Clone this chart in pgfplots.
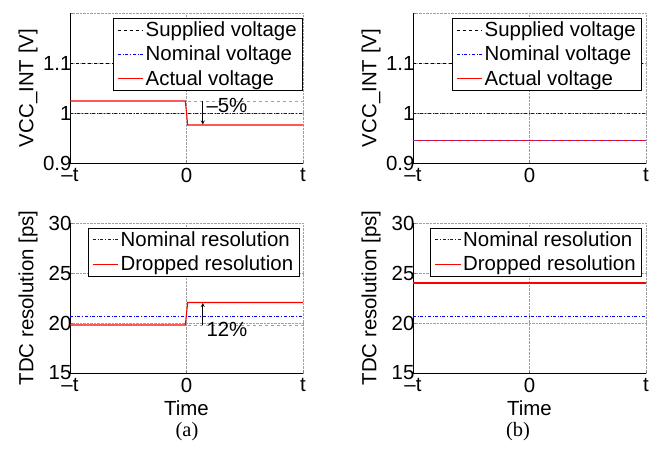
\documentclass[border=0pt]{standalone}
\usepackage{xcolor}
\usepackage{fontspec}
\setmainfont{Liberation Sans}
\newfontfamily\capfont{Liberation Serif}
\usepackage{pgfplots}
\pgfplotsset{compat=1.18}
\definecolor{pinkred}{RGB}{255,120,120}
\definecolor{myblue}{RGB}{0,0,254}
\definecolor{myred}{RGB}{254,0,0}
\definecolor{myblack}{RGB}{2,2,2}
\definecolor{gridgray}{RGB}{160,160,160}
\definecolor{mixline}{RGB}{130,40,190}
\newcommand\fs{\fontsize{20.5}{24}\selectfont}
\pgfplotsset{
  bl/.style={color=myblue, draw=myblue, dash dot, line width=1pt},
  rd/.style={color=myred, draw=myred, line width=1.1pt},
  bk/.style={color=myblack, draw=myblack, dashed, line width=0.8pt},
  myax/.style={
    scale only axis, width=233bp, height=150bp,
    anchor=south west,
    xmin=-1, xmax=1,
    xtick={-1,0,1}, xticklabels={{\fs\textendash t},{\fs 0},{\fs t}},
    axis x line*=bottom, axis y line*=left,
    axis line style={-},
    tick align=inside, major tick length=3pt,
    grid=major, grid style={densely dotted, gridgray, line width=0.5pt},
    every axis y label/.style={at={(axis description cs:-0.18,0.5)},rotate=90,anchor=center},
    every axis x label/.style={at={(axis description cs:0.5,-0.235)},anchor=center},
    xticklabel style={yshift=-2pt},
    yticklabel style={xshift=5pt},
    legend cell align=left,
    legend image post style={xscale=1.5},
    legend style={draw=myblack, line width=0.6pt, inner xsep=4pt, inner ysep=2pt, row sep=4pt},
  },
}
\begin{document}
\begin{tikzpicture}
\path (0,0) rectangle (658bp,-449bp);
% (a) top
\begin{axis}[myax, at={(70bp,-163bp)}, ymin=0.9, ymax=1.2,
  ytick={0.9,1.0,1.1,1.2}, yticklabels={{\fs 0.9},{\fs 1},{\fs 1.1},{}},
  ylabel={\fs VCC\_INT [V]},
  legend style={at={(rel axis cs:1,0.97)}, anchor=north east}]
\addplot[bk] coordinates {(-1,1.1) (1,1.1)};
\addlegendentry{\fs Supplied voltage}
\addplot[bl] coordinates {(-1,1.0) (1,1.0)};
\addlegendentry{\fs Nominal voltage}
\addplot[rd] coordinates {(-1,1.024) (-0.01,1.024) (0.01,0.976) (1,0.976)};
\addlegendentry{\fs Actual voltage}
\addplot[color=pinkred, dashed, line width=0.9pt, forget plot] coordinates {(0.01,1.024) (1,1.024)};
\addplot[color=myblack, -stealth, line width=0.8pt, forget plot] coordinates {(0.14,1.024) (0.14,0.977)};
\node[anchor=west, inner sep=0pt] at (axis cs:0.17,1.015) {\fs\textendash5\%};
\end{axis}
% (a) bottom
\begin{axis}[myax, at={(70bp,-373bp)}, ymin=15, ymax=30,
  ytick={15,20,25,30}, yticklabels={{\fs 15},{\fs 20},{\fs 25},{\fs 30}},
  ylabel={\fs TDC resolution [ps]}, xlabel={\fs Time},
  legend style={at={(rel axis cs:0.985,0.97)}, anchor=north east}]
\addplot[bl] coordinates {(-1,20.7) (1,20.7)};
\addlegendentry{\fs Nominal resolution}
\addplot[rd] coordinates {(-1,19.8) (-0.01,19.8) (0.01,22.05) (1,22.05)};
\addlegendentry{\fs Dropped resolution}
\addplot[color=pinkred, dashed, line width=0.9pt, forget plot] coordinates {(0.01,19.8) (1,19.8)};
\addplot[color=myblack, -stealth, line width=0.8pt, forget plot] coordinates {(0.14,19.8) (0.14,22.0)};
\node[anchor=west, inner sep=0pt] at (axis cs:0.17,19.4) {\fs 12\%};
\end{axis}
% (b) top
\begin{axis}[myax, at={(413bp,-163bp)}, ymin=0.9, ymax=1.2,
  ytick={0.9,1.0,1.1,1.2}, yticklabels={{\fs 0.9},{\fs 1},{\fs 1.1},{}},
  ylabel={\fs VCC\_INT [V]},
  legend style={at={(rel axis cs:0.983,0.97)}, anchor=north east}]
\addplot[bk] coordinates {(-1,1.1) (1,1.1)};
\addlegendentry{\fs Supplied voltage}
\addplot[bl] coordinates {(-1,1.0) (1,1.0)};
\addlegendentry{\fs Nominal voltage}
\addplot[rd] coordinates {(-1,0.945) (1,0.945)};
\addlegendentry{\fs Actual voltage}
\addplot[color=mixline, dash pattern=on 4pt off 4pt, line width=1.1pt, forget plot] coordinates {(-1,0.945) (1,0.945)};
\end{axis}
% (b) bottom
\begin{axis}[myax, at={(413bp,-373bp)}, ymin=15, ymax=30,
  ytick={15,20,25,30}, yticklabels={{\fs 15},{\fs 20},{\fs 25},{\fs 30}},
  ylabel={\fs TDC resolution [ps]}, xlabel={\fs Time},
  legend style={at={(rel axis cs:0.983,0.97)}, anchor=north east}]
\addplot[bl] coordinates {(-1,20.7) (1,20.7)};
\addlegendentry{\fs Nominal resolution}
\addplot[rd] coordinates {(-1,24.0) (1,24.0)};
\addlegendentry{\fs Dropped resolution}
\end{axis}
\node[font=\capfont\fontsize{20.5}{24}\selectfont] at (187bp,-432bp) {(a)};
\node[font=\capfont\fontsize{20.5}{24}\selectfont] at (518bp,-432bp) {(b)};
\end{tikzpicture}
\end{document}
